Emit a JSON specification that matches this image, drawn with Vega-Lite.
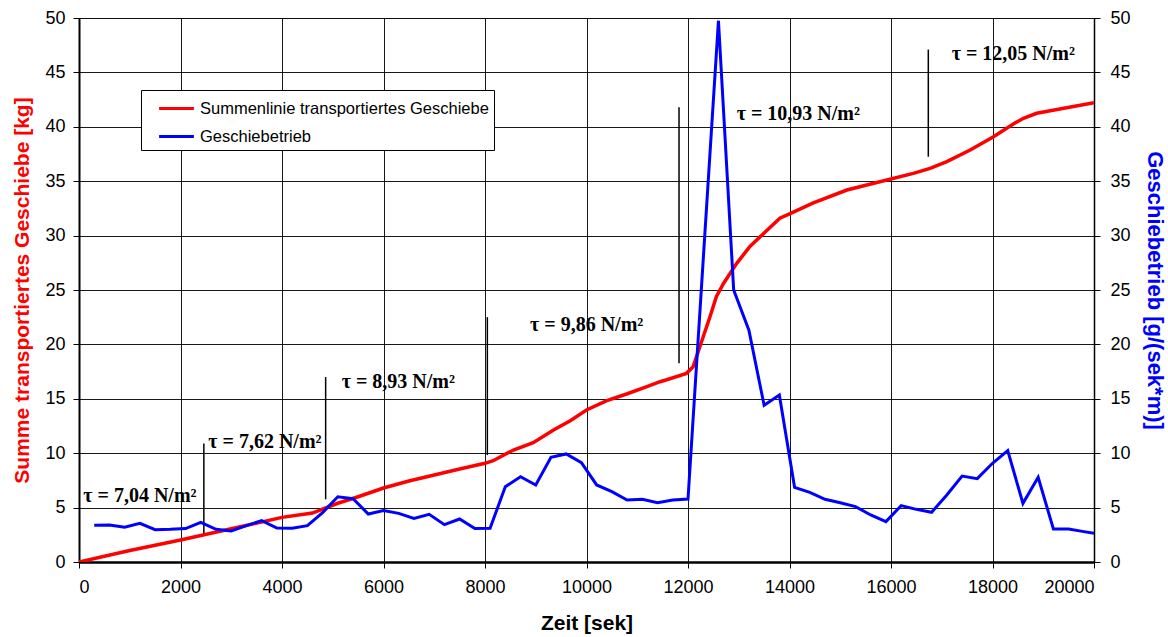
{
  "$schema": "https://vega.github.io/schema/vega-lite/v6.json",
  "width": 1015,
  "height": 544,
  "autosize": {"type": "none"},
  "padding": {"left": 79, "top": 18, "right": 74, "bottom": 75},
  "background": "white",
  "config": {
    "font": "Liberation Sans",
    "view": {"stroke": "#808080", "strokeWidth": 1},
    "axis": {
      "labelFont": "Liberation Sans",
      "labelFontSize": 18,
      "labelColor": "black",
      "titleFont": "Liberation Sans",
      "titleFontSize": 20,
      "titleFontWeight": "bold",
      "tickColor": "black",
      "tickSize": 6,
      "domainColor": "black",
      "gridColor": "black",
      "gridOpacity": 0.9,
      "gridWidth": 1
    }
  },
  "datasets": {
    "summe": [
      {"t": 0, "v": 0}, {"t": 1000, "v": 1.05}, {"t": 2000, "v": 2.02}, {"t": 3000, "v": 3.05},
      {"t": 4000, "v": 4.1}, {"t": 4600, "v": 4.5}, {"t": 5100, "v": 5.4}, {"t": 5500, "v": 6.0},
      {"t": 6000, "v": 6.8}, {"t": 6500, "v": 7.45}, {"t": 7000, "v": 8.0}, {"t": 7500, "v": 8.55},
      {"t": 8000, "v": 9.07}, {"t": 8160, "v": 9.31}, {"t": 8560, "v": 10.29}, {"t": 8950, "v": 10.97},
      {"t": 9350, "v": 12.13}, {"t": 9680, "v": 12.99}, {"t": 10000, "v": 13.97}, {"t": 10400, "v": 14.83},
      {"t": 10790, "v": 15.44}, {"t": 11190, "v": 16.12}, {"t": 11450, "v": 16.57}, {"t": 11580, "v": 16.75},
      {"t": 11970, "v": 17.34}, {"t": 12100, "v": 17.95}, {"t": 12300, "v": 20.7}, {"t": 12430, "v": 22.5},
      {"t": 12560, "v": 24.4}, {"t": 12700, "v": 25.6}, {"t": 12960, "v": 27.45}, {"t": 13220, "v": 29.0},
      {"t": 13490, "v": 30.2}, {"t": 13810, "v": 31.6}, {"t": 14000, "v": 32.0}, {"t": 14470, "v": 33.0},
      {"t": 15130, "v": 34.19}, {"t": 15780, "v": 34.95}, {"t": 16440, "v": 35.72}, {"t": 16770, "v": 36.18},
      {"t": 17100, "v": 36.8}, {"t": 17560, "v": 37.87}, {"t": 18020, "v": 39.09}, {"t": 18410, "v": 40.26},
      {"t": 18610, "v": 40.78}, {"t": 18870, "v": 41.24}, {"t": 20000, "v": 42.22}
    ],
    "trieb": [
      {"t": 300, "v": 3.37}, {"t": 600, "v": 3.4}, {"t": 900, "v": 3.2}, {"t": 1200, "v": 3.55},
      {"t": 1500, "v": 2.97}, {"t": 1800, "v": 3.0}, {"t": 2100, "v": 3.07}, {"t": 2400, "v": 3.65},
      {"t": 2700, "v": 3.0}, {"t": 3000, "v": 2.85}, {"t": 3300, "v": 3.34}, {"t": 3600, "v": 3.8},
      {"t": 3900, "v": 3.12}, {"t": 4200, "v": 3.1}, {"t": 4500, "v": 3.34}, {"t": 4800, "v": 4.54},
      {"t": 5100, "v": 6.0}, {"t": 5400, "v": 5.82}, {"t": 5700, "v": 4.41}, {"t": 6000, "v": 4.72},
      {"t": 6300, "v": 4.47}, {"t": 6600, "v": 4.01}, {"t": 6900, "v": 4.38}, {"t": 7200, "v": 3.43},
      {"t": 7500, "v": 3.95}, {"t": 7800, "v": 3.07}, {"t": 8100, "v": 3.1}, {"t": 8400, "v": 6.92},
      {"t": 8700, "v": 7.84}, {"t": 9000, "v": 7.08}, {"t": 9300, "v": 9.62}, {"t": 9600, "v": 9.93},
      {"t": 9900, "v": 9.13}, {"t": 10200, "v": 7.08}, {"t": 10500, "v": 6.46}, {"t": 10800, "v": 5.7},
      {"t": 11100, "v": 5.76}, {"t": 11400, "v": 5.45}, {"t": 11700, "v": 5.7}, {"t": 12000, "v": 5.79},
      {"t": 12300, "v": 27.8}, {"t": 12600, "v": 49.75}, {"t": 12900, "v": 25.0}, {"t": 13200, "v": 21.3},
      {"t": 13500, "v": 14.4}, {"t": 13800, "v": 15.35}, {"t": 14100, "v": 6.86}, {"t": 14400, "v": 6.4},
      {"t": 14700, "v": 5.76}, {"t": 15000, "v": 5.45}, {"t": 15300, "v": 5.09}, {"t": 15600, "v": 4.32},
      {"t": 15900, "v": 3.71}, {"t": 16200, "v": 5.18}, {"t": 16500, "v": 4.84}, {"t": 16800, "v": 4.57},
      {"t": 17100, "v": 6.16}, {"t": 17400, "v": 7.9}, {"t": 17700, "v": 7.66}, {"t": 18000, "v": 9.07},
      {"t": 18300, "v": 10.23}, {"t": 18600, "v": 5.39}, {"t": 18900, "v": 7.78}, {"t": 19200, "v": 3.03},
      {"t": 19500, "v": 3.03}, {"t": 19800, "v": 2.79}, {"t": 20000, "v": 2.64}
    ],
    "marks": [
      {"t": 2460, "lo": 2.64, "hi": 10.9},
      {"t": 4860, "lo": 5.76, "hi": 17.0},
      {"t": 8046, "lo": 9.83, "hi": 22.5},
      {"t": 11823, "lo": 18.26, "hi": 41.8},
      {"t": 16735, "lo": 37.25, "hi": 47.1}
    ],
    "labels": [
      {"t": 85, "v": 5.54, "text": "τ = 7,04 N/m²"},
      {"t": 2548, "v": 10.45, "text": "τ = 7,62 N/m²"},
      {"t": 5176, "v": 16.02, "text": "τ = 8,93 N/m²"},
      {"t": 8887, "v": 21.23, "text": "τ = 9,86 N/m²"},
      {"t": 12960, "v": 40.63, "text": "τ = 10,93 N/m²"},
      {"t": 17196, "v": 46.14, "text": "τ = 12,05 N/m²"}
    ]
  },
  "layer": [
    {
      "layer": [
        {
          "data": {"name": "summe"},
          "transform": [{"calculate": "'Summenlinie transportiertes Geschiebe'", "as": "series"}],
          "mark": {"type": "line", "strokeWidth": 3.5, "clip": true},
          "encoding": {
            "x": {
              "field": "t", "type": "quantitative",
              "scale": {"domain": [0, 20000], "nice": false, "zero": false},
              "axis": {
                "title": "Zeit [sek]",
                "titleFontSize": 21,
                "values": [0, 2000, 4000, 6000, 8000, 10000, 12000, 14000, 16000, 18000, 20000],
                "format": "d",
                "grid": true,
                "domainWidth": 2.5,
                "labelPadding": 10,
                "titlePadding": 16
              }
            },
            "y": {
              "field": "v", "type": "quantitative",
              "scale": {"domain": [0, 50], "nice": false},
              "axis": {
                "title": "Summe transportiertes Geschiebe [kg]",
                "titleColor": "#FF0000",
                "titleFontSize": 21,
                "values": [0, 5, 10, 15, 20, 25, 30, 35, 40, 45, 50],
                "grid": true,
                "domainWidth": 2,
                "labelPadding": 8,
                "titlePadding": 12
              }
            },
            "color": {
              "field": "series", "type": "nominal",
              "scale": {
                "domain": ["Summenlinie transportiertes Geschiebe", "Geschiebetrieb"],
                "range": ["#FF0000", "#0000FF"]
              },
              "legend": {
                "title": null,
                "orient": "none",
                "legendX": 62,
                "legendY": 72,
                "direction": "vertical",
                "strokeColor": "black",
                "fillColor": "white",
                "padding": 5,
                "symbolType": "M-1.45,0H1.45",
                "symbolSize": 576,
                "symbolStrokeWidth": 3,
                "symbolOffset": 17,
                "labelFontSize": 16.5,
                "labelFont": "Liberation Sans",
                "labelColor": "black",
                "labelLimit": 500,
                "rowPadding": 6,
                "labelOffset": 10
              }
            }
          }
        },
        {
          "data": {"name": "marks"},
          "mark": {"type": "rule", "color": "black", "strokeWidth": 1.5},
          "encoding": {
            "x": {"field": "t", "type": "quantitative"},
            "y": {"field": "lo", "type": "quantitative"},
            "y2": {"field": "hi"}
          }
        },
        {
          "data": {"name": "labels"},
          "mark": {"type": "text", "align": "left", "baseline": "alphabetic", "font": "Liberation Serif", "fontWeight": "bold", "fontSize": 20, "color": "black"},
          "encoding": {
            "x": {"field": "t", "type": "quantitative"},
            "y": {"field": "v", "type": "quantitative"},
            "text": {"field": "text", "type": "nominal"}
          }
        }
      ]
    },
    {
      "data": {"name": "trieb"},
      "transform": [{"calculate": "'Geschiebetrieb'", "as": "series"}],
      "mark": {"type": "line", "strokeWidth": 3, "clip": true},
      "encoding": {
        "x": {"field": "t", "type": "quantitative"},
        "y": {
          "field": "v", "type": "quantitative",
          "scale": {"domain": [0, 50], "nice": false},
          "axis": {
            "orient": "right",
            "title": "Geschiebetrieb [g/(sek*m)]",
            "titleColor": "#0000FF",
            "titleFontSize": 22,
            "values": [0, 5, 10, 15, 20, 25, 30, 35, 40, 45, 50],
            "grid": false,
            "domainWidth": 1.5,
            "labelPadding": 10,
            "titlePadding": 12
          }
        },
        "color": {"field": "series", "type": "nominal"}
      }
    }
  ],
  "resolve": {"scale": {"y": "independent"}}
}
